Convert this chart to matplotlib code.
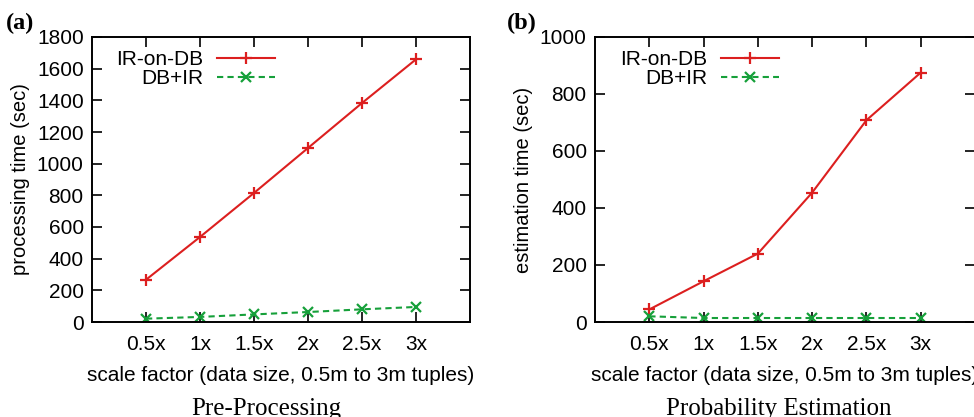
import numpy as np
import matplotlib
matplotlib.use('Agg')
import matplotlib.pyplot as plt

plt.rcParams['font.family'] = ['Liberation Sans', 'DejaVu Sans']

scale_labels = ['0.5x', '1x', '1.5x', '2x', '2.5x', '3x']
pre_ir_on_db = [267, 537, 815, 1099, 1383, 1659]
pre_db_ir = [21, 32, 48, 63, 80, 95]
est_ir_on_db = [44, 143, 240, 454, 708, 875]
est_db_ir = [20, 14, 14, 14, 14, 14]

red = '#dc1f1f'
green = '#16a03a'
fs = 15

fig = plt.figure(figsize=(9.74, 4.17), dpi=100)
ax1 = fig.add_axes([92 / 974, 1 - 322 / 417, 378 / 974, 285 / 417])
ax2 = fig.add_axes([595 / 974, 1 - 322 / 417, 380 / 974, 285 / 417])

x = np.arange(1, len(scale_labels) + 1)


def draw(ax, ir, dbir, ymax, ystep, ylabel):
    ax.plot(x, ir, color=red, lw=1.5, marker='+', ms=9, mew=1.6, label='IR-on-DB')
    ax.plot(x, dbir, color=green, lw=1.5, ls=(0, (3, 2)), marker='x', ms=7,
            mew=1.6, label='DB+IR')
    ax.set_xlim(0, 7)
    ax.set_ylim(0, ymax)
    ax.set_xticks(x)
    ax.set_xticklabels(scale_labels)
    ax.set_yticks(np.arange(0, ymax + 1, ystep))
    ax.tick_params(direction='in', length=7, width=1.2, top=True, right=True,
                   labelsize=fs, pad=6)
    ax.tick_params(axis='x', pad=9)
    for s in ax.spines.values():
        s.set_linewidth(1.4)
    ax.set_xlabel('scale factor (data size, 0.5m to 3m tuples)', fontsize=fs,
                  labelpad=9)
    ax.set_ylabel(ylabel, fontsize=14.5, labelpad=5)
    ax.legend(loc='upper right', bbox_to_anchor=(0.485, 0.955), frameon=False,
              markerfirst=False, fontsize=fs, handlelength=2.8,
              handletextpad=0.67, labelspacing=0.0, borderpad=0,
              borderaxespad=0)


draw(ax1, pre_ir_on_db, pre_db_ir, 1800, 200, 'processing time (sec)')
draw(ax2, est_ir_on_db, est_db_ir, 1000, 200, 'estimation time (sec)')

fig.text(266 / 974, 1 - 409 / 417, 'Pre-Processing', family='Liberation Serif',
         fontsize=18, ha='center', va='center')
fig.text(779 / 974, 1 - 409 / 417, 'Probability Estimation',
         family='Liberation Serif', fontsize=18, ha='center', va='center')
fig.text(6 / 974, 1 - 23 / 417, '(a)', family='Liberation Serif',
         fontweight='bold', fontsize=17.5, ha='left', va='center')
fig.text(507 / 974, 1 - 23 / 417, '(b)', family='Liberation Serif',
         fontweight='bold', fontsize=17.5, ha='left', va='center')

fig.savefig('out.png', dpi=100)
